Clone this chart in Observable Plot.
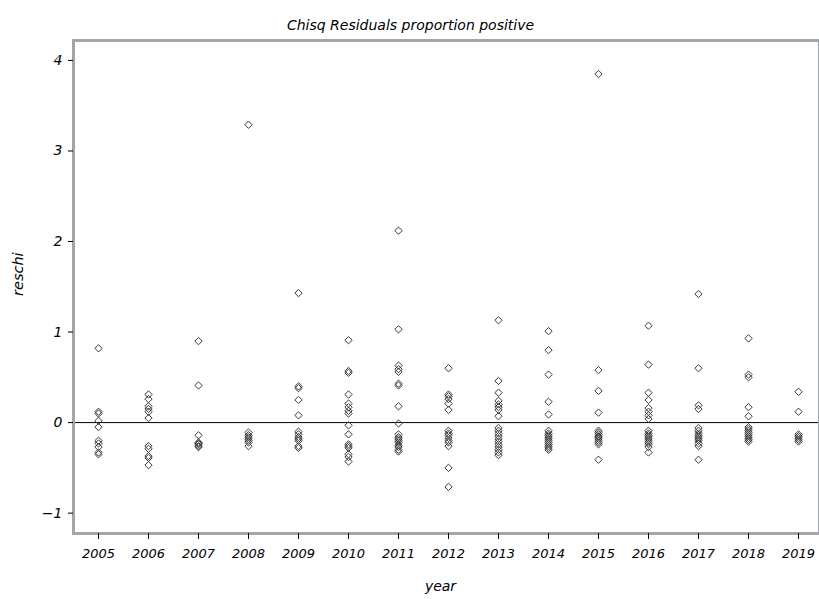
<!DOCTYPE html>
<html><head><meta charset="utf-8">
<script src="https://cdn.jsdelivr.net/npm/d3@7"></script>
<script src="https://cdn.jsdelivr.net/npm/@observablehq/plot@0.6"></script>
<style>body{margin:0;background:#fff}</style>
</head><body><div id="chart"></div>
<script>
const years = [2005,2006,2007,2008,2009,2010,2011,2012,2013,2014,2015,2016,2017,2018,2019];
const y2005 = [0.82, 0.12, 0.10, 0.02, -0.05, -0.20, -0.23, -0.27, -0.33, -0.35];
const y2006 = [0.31, 0.26, 0.18, 0.15, 0.12, 0.05, -0.26, -0.29, -0.37, -0.39, -0.47];
const y2007 = [0.90, 0.41, -0.14, -0.22, -0.23, -0.24, -0.26, -0.27];
const y2008 = [3.29, -0.11, -0.14, -0.16, -0.18, -0.20, -0.22, -0.26];
const y2009 = [1.43, 0.40, 0.38, 0.25, 0.08, -0.10, -0.13, -0.16, -0.18, -0.20, -0.26, -0.28];
const y2010 = [0.91, 0.57, 0.55, 0.31, 0.21, 0.17, 0.13, 0.10, -0.03, -0.13, -0.24, -0.26, -0.28, -0.35, -0.38, -0.43];
const y2011 = [2.12, 1.03, 0.63, 0.59, 0.56, 0.43, 0.41, 0.18, -0.01, -0.13, -0.16, -0.18, -0.20, -0.22, -0.25, -0.27, -0.30, -0.32];
const y2012 = [0.60, 0.31, 0.29, 0.26, 0.21, 0.14, -0.09, -0.12, -0.14, -0.17, -0.20, -0.22, -0.26, -0.50, -0.71];
const y2013 = [1.13, 0.46, 0.33, 0.24, 0.20, 0.17, 0.14, 0.07, -0.06, -0.09, -0.12, -0.15, -0.18, -0.21, -0.24, -0.27, -0.30, -0.33, -0.36];
const y2014 = [1.01, 0.80, 0.53, 0.23, 0.09, -0.09, -0.12, -0.14, -0.16, -0.18, -0.20, -0.22, -0.24, -0.26, -0.28, -0.30];
const y2015 = [3.85, 0.58, 0.35, 0.11, -0.09, -0.11, -0.13, -0.15, -0.16, -0.18, -0.20, -0.22, -0.24, -0.41];
const y2016 = [1.07, 0.64, 0.33, 0.25, 0.16, 0.12, 0.08, 0.04, -0.09, -0.12, -0.14, -0.16, -0.18, -0.20, -0.22, -0.24, -0.27, -0.33];
const y2017 = [1.42, 0.60, 0.19, 0.15, -0.06, -0.09, -0.12, -0.14, -0.16, -0.18, -0.20, -0.23, -0.26, -0.41];
const y2018 = [0.93, 0.53, 0.50, 0.17, 0.07, -0.05, -0.07, -0.09, -0.11, -0.13, -0.15, -0.17, -0.19, -0.21];
const y2019 = [0.34, 0.12, -0.13, -0.15, -0.17, -0.19, -0.21];
const yTicks = [-1, 0, 1, 2, 3, 4];

const series = [y2005,y2006,y2007,y2008,y2009,y2010,y2011,y2012,y2013,y2014,y2015,y2016,y2017,y2018,y2019];
const data = series.flatMap((vals, i) => vals.map(v => ({year: years[i], reschi: v})));

const font = "'DejaVu Sans', Arial, sans-serif";
const chart = Plot.plot({
  width: 819, height: 599,
  marginLeft: 73, marginRight: 0, marginTop: 40, marginBottom: 66,
  style: {fontFamily: font, fontStyle: "italic", background: "#fff", color: "#000"},
  x: {domain: [2004.5, 2019.42], axis: null},
  y: {domain: [-1.225, 4.22], axis: null},
  marks: [
    Plot.ruleY([0], {stroke: "#000", strokeWidth: 1}),
    Plot.dot(data, {x: "year", y: "reschi", symbol: "diamond2", r: 3.3, stroke: "#3a3a3a", strokeWidth: 1}),
    Plot.frame({stroke: "#a2a6aa", strokeWidth: 3}),
    Plot.axisX(years, {tickSize: 6, tickPadding: 9, tickFormat: d => String(d), fontSize: 13, fontStyle: "italic", label: null, stroke: "#000"}),
    Plot.axisY(yTicks, {tickSize: 5, tickPadding: 6, tickFormat: d => d < 0 ? "\u2212" + Math.abs(d) : String(d), fontSize: 14, fontStyle: "italic", label: null, stroke: "#000"}),
    Plot.text(["Chisq Residuals proportion positive"], {frameAnchor: "top", dx: -36, dy: -20, fontSize: 14, fontStyle: "italic"}),
    Plot.text(["reschi"], {frameAnchor: "left", dx: -55, dy: 9, rotate: -90, fontSize: 14.5, fontStyle: "italic"}),
    Plot.text(["year"], {frameAnchor: "bottom", dx: -6, dy: 57, fontSize: 14, fontStyle: "italic"})
  ]
});
document.getElementById("chart").appendChild(chart);
</script>
</body></html>
